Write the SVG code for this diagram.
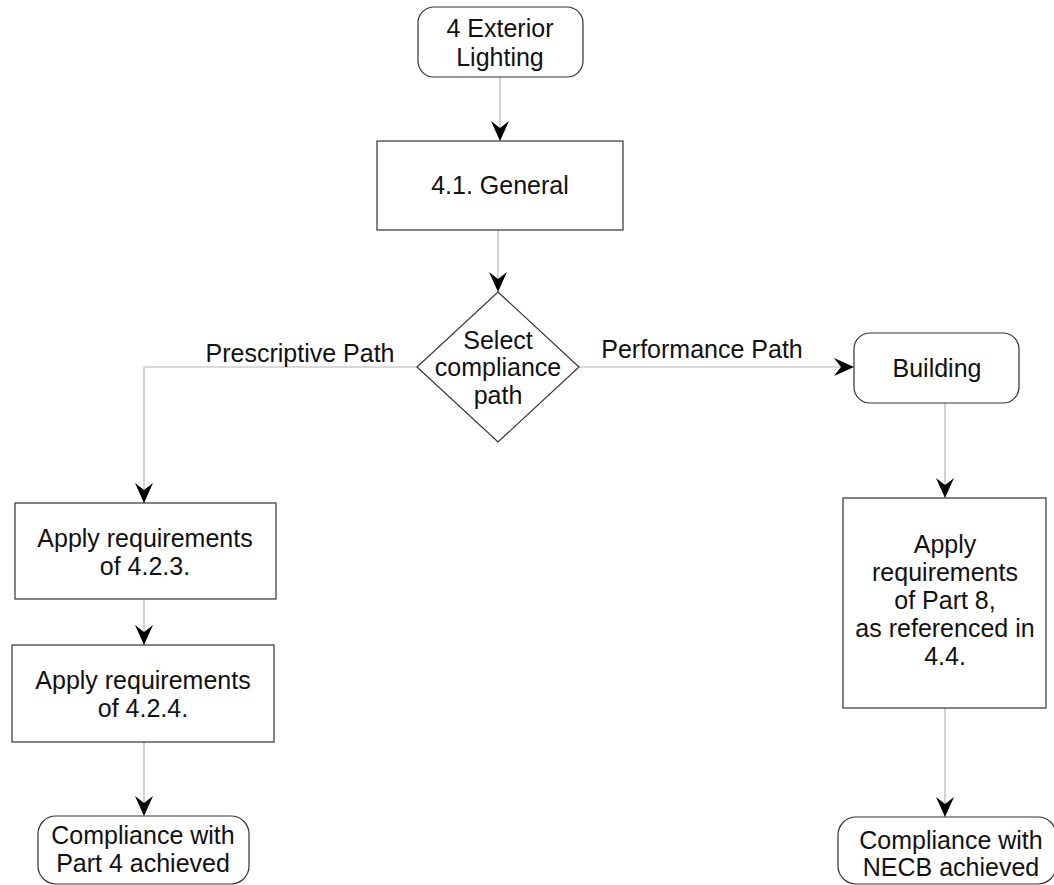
<svg xmlns="http://www.w3.org/2000/svg" width="1054" height="885" viewBox="0 0 1054 885">
<style>
.box{fill:#fff;stroke:#333;stroke-width:1.2}
.t{font-family:"Liberation Sans",Arial,sans-serif;font-size:25px;fill:#111;text-anchor:middle;dominant-baseline:central}
.c{fill:none;stroke:#b5b5b5;stroke-width:1.2}
</style>
<defs>
<marker id="ah" viewBox="0 0 20 18" refX="20" refY="9" markerWidth="20" markerHeight="18" markerUnits="userSpaceOnUse" orient="auto">
<path d="M0,0 L20,9 L0,18 L7,9 Z" fill="#000"/>
</marker>
</defs>
<rect width="1054" height="885" fill="#fff"/>
<g id="connectors">
<path class="c" d="M500,77 L500,141" marker-end="url(#ah)"/>
<path class="c" d="M498,230 L498,292" marker-end="url(#ah)"/>
<path class="c" d="M417,367 L144,367 L144,503" marker-end="url(#ah)"/>
<path class="c" d="M579,367 L854,367" marker-end="url(#ah)"/>
<path class="c" d="M945,403 L945,498" marker-end="url(#ah)"/>
<path class="c" d="M144,599 L144,645" marker-end="url(#ah)"/>
<path class="c" d="M144,742 L144,816" marker-end="url(#ah)"/>
<path class="c" d="M945,708 L945,817" marker-end="url(#ah)"/>
<text class="t" x="300" y="353">Prescriptive Path</text>
<text class="t" x="702" y="349">Performance Path</text>
</g>
<g id="n-exterior">
<rect class="box" x="418" y="7" width="165" height="70" rx="16"/>
<text class="t" x="500" y="28">4 Exterior</text>
<text class="t" x="500" y="57">Lighting</text>
</g>
<g id="n-general">
<rect class="box" x="377" y="141" width="246" height="89"/>
<text class="t" x="500" y="185">4.1. General</text>
</g>
<g id="n-select">
<polygon class="box" points="498,292 579,367 498,442 417,367"/>
<text class="t" x="498" y="340">Select</text>
<text class="t" x="498" y="367">compliance</text>
<text class="t" x="498" y="395">path</text>
</g>
<g id="n-building">
<rect class="box" x="854" y="333" width="165" height="70" rx="16"/>
<text class="t" x="937" y="368">Building</text>
</g>
<g id="n-423">
<rect class="box" x="15" y="503" width="261" height="96"/>
<text class="t" x="145" y="538">Apply requirements</text>
<text class="t" x="145" y="566">of 4.2.3.</text>
</g>
<g id="n-424">
<rect class="box" x="12" y="645" width="262" height="97"/>
<text class="t" x="143" y="680">Apply requirements</text>
<text class="t" x="143" y="708">of 4.2.4.</text>
</g>
<g id="n-part8">
<rect class="box" x="843" y="498" width="203" height="210"/>
<text class="t" x="945" y="544">Apply</text>
<text class="t" x="945" y="572">requirements</text>
<text class="t" x="945" y="600">of Part 8,</text>
<text class="t" x="945" y="628">as referenced in</text>
<text class="t" x="945" y="656">4.4.</text>
</g>
<g id="n-comp4">
<rect class="box" x="38" y="816" width="211" height="68" rx="18"/>
<text class="t" x="143" y="835">Compliance with</text>
<text class="t" x="143" y="863">Part 4 achieved</text>
</g>
<g id="n-compnecb">
<rect class="box" x="838" y="817" width="218" height="67" rx="18"/>
<text class="t" x="951" y="840">Compliance with</text>
<text class="t" x="951" y="867">NECB achieved</text>
</g>
</svg>
